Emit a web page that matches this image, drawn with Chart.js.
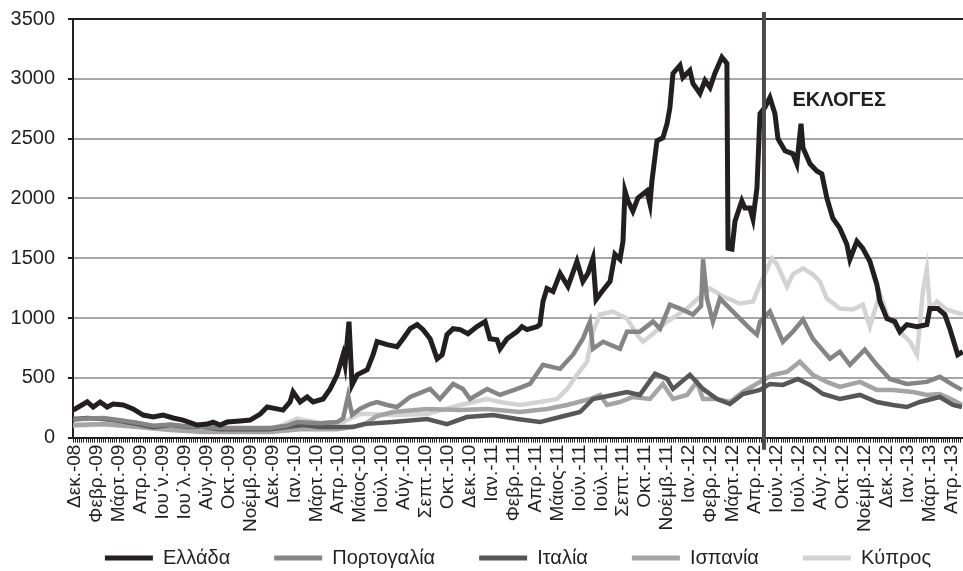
<!DOCTYPE html>
<html>
<head>
<meta charset="utf-8">
<script src="https://cdn.jsdelivr.net/npm/chart.js@4.4.1/dist/chart.umd.min.js"></script>
<style>
  html, body { margin: 0; padding: 0; background: #fff; }
  canvas { display: block; }
</style>
</head>
<body>
<canvas id="cdsChart" width="963" height="571"></canvas>
<script>
// x labels, one per tick position (index units)
const months = ['Δεκ.-08', 'Φεβρ.-09', 'Μάρτ.-09', 'Απρ.-09', 'Ιου΄ν.-09', 'Ιου΄λ.-09', 'Αύγ.-09', 'Οκτ.-09',
    'Νοέμβ.-09', 'Δεκ.-09', 'Ιαν.-10', 'Μάρτ.-10', 'Απρ.-10', 'Μάιος-10', 'Ιούλ.-10', 'Αύγ.-10', 'Σεπτ.-10',
    'Οκτ.-10', 'Δεκ.-10', 'Ιαν.-11', 'Φεβρ.-11', 'Απρ.-11', 'Μάιος-11', 'Ιούν.-11', 'Ιούλ.-11', 'Σεπτ.-11',
    'Οκτ.-11', 'Νοέμβ.-11', 'Ιαν.-12', 'Φεβρ.-12', 'Μάρτ.-12', 'Απρ.-12', 'Ιούν.-12', 'Ιούλ.-12', 'Αύγ.-12',
    'Οκτ.-12', 'Νοέμβ.-12', 'Δεκ.-12', 'Ιαν.-13', 'Μάρτ.-13', 'Απρ.-13'];
const yTicks = [0, 500, 1000, 1500, 2000, 2500, 3000, 3500];

// Ελλάδα
const greeceX = [-0.09, 0.55, 0.82, 1.14, 1.46, 1.73, 2.19, 2.64, 3.10, 3.56,
    4.01, 4.47, 4.92, 5.56, 6.02, 6.29, 6.61, 6.93, 7.52, 7.98,
    8.44, 8.76, 9.21, 9.48, 9.80, 9.94, 10.26, 10.58, 10.85, 11.31,
    11.63, 11.95, 12.22, 12.31, 12.49, 12.63, 12.86, 13.32, 13.59, 13.77,
    14.23, 14.68, 14.96, 15.28, 15.60, 15.87, 16.19, 16.51, 16.74, 16.96,
    17.24, 17.56, 17.92, 18.33, 18.70, 18.92, 19.24, 19.38, 19.70, 20.16,
    20.38, 20.61, 21.07, 21.20, 21.34, 21.52, 21.80, 22.12, 22.48, 22.89,
    23.16, 23.39, 23.62, 23.76, 24.03, 24.40, 24.62, 24.85, 24.99, 25.08,
    25.22, 25.44, 25.67, 26.08, 26.22, 26.31, 26.54, 26.81, 27.00, 27.13,
    27.27, 27.59, 27.72, 28.04, 28.18, 28.50, 28.73, 28.96, 29.18, 29.50,
    29.73, 29.78, 29.96, 30.10, 30.41, 30.55, 30.78, 30.92, 31.10, 31.24,
    31.46, 31.69, 31.92, 32.06, 32.38, 32.74, 32.92, 33.11, 33.20, 33.52,
    33.83, 34.06, 34.29, 34.56, 34.88, 35.20, 35.34, 35.66, 35.93, 36.25,
    36.57, 36.71, 37.03, 37.39, 37.62, 37.94, 38.40, 38.85, 38.99, 39.35,
    39.67, 39.90, 40.26, 40.49];
const greeceY = [230, 300, 256, 298, 256, 281, 273, 240, 189, 172,
    189, 164, 147, 105, 113, 130, 105, 130, 139, 147,
    197, 256, 240, 230, 298, 382, 298, 340, 298, 323,
    407, 525, 693, 609, 970, 441, 525, 567, 693, 802,
    777, 760, 827, 911, 945, 903, 827, 659, 693, 861,
    911, 903, 869, 928, 970, 827, 819, 743, 827, 886,
    928, 903, 928, 945, 1138, 1247, 1222, 1373, 1264, 1474,
    1306, 1373, 1499, 1155, 1222, 1306, 1533, 1491, 1642, 2062,
    1978, 1894, 2003, 2062, 1953, 2146, 2482, 2507, 2625, 2759,
    3045, 3112, 3011, 3070, 2961, 2877, 2986, 2927, 3045, 3180,
    3129, 1583, 1575, 1810, 1978, 1919, 1919, 1827, 2087, 2709,
    2759, 2843, 2709, 2499, 2398, 2373, 2289, 2625, 2423, 2289,
    2230, 2205, 2003, 1835, 1751, 1617, 1491, 1642, 1583, 1474,
    1281, 1138, 995, 970, 886, 945, 928, 945, 1079, 1079,
    1029, 911, 693, 718];

// Πορτογαλία
const portugalX = [-0.09, 0.55, 1.28, 2.05, 2.83, 3.56, 4.33, 5.11, 5.84, 6.61,
    7.39, 8.12, 8.89, 9.67, 10.12, 10.72, 11.17, 11.95, 12.22, 12.45,
    12.63, 13.00, 13.45, 13.77, 14.23, 14.68, 15.28, 16.19, 16.64, 17.24,
    17.69, 18.01, 18.79, 19.38, 20.16, 20.75, 21.34, 22.12, 22.71, 23.16,
    23.48, 23.62, 24.08, 24.85, 25.17, 25.76, 26.36, 26.68, 27.13, 27.59,
    28.18, 28.55, 28.64, 28.82, 29.09, 29.41, 29.87, 30.32, 30.78, 31.10,
    31.24, 31.69, 32.28, 32.74, 33.20, 33.65, 34.43, 34.88, 35.34, 36.02,
    36.57, 37.16, 37.94, 38.85, 39.44, 40.04, 40.45];
const portugalY = [150, 160, 164, 145, 125, 100, 110, 95, 90, 80,
    80, 80, 80, 100, 130, 125, 120, 130, 160, 350,
    190, 242, 281, 298, 273, 256, 340, 407, 323, 449,
    407, 323, 407, 357, 407, 449, 609, 575, 693, 827,
    970, 743, 802, 743, 886, 886, 970, 911, 1112, 1079,
    1029, 1100, 1491, 1163, 970, 1163, 1079, 995, 911, 861,
    970, 1054, 802, 886, 987, 827, 659, 718, 609, 735,
    609, 491, 449, 466, 508, 441, 399];

// Ιταλία
const italyX = [-0.09, 0.55, 1.28, 2.05, 2.83, 3.56, 4.33, 5.11, 5.84, 6.61,
    8.12, 8.89, 9.67, 10.40, 11.17, 11.95, 12.68, 13.13, 14.50, 16.05,
    16.96, 17.87, 19.06, 20.16, 21.20, 22.12, 23.03, 23.62, 24.53, 25.17,
    25.76, 26.45, 27.00, 27.27, 28.04, 28.64, 29.28, 29.87, 30.46, 31.24,
    31.69, 32.28, 32.97, 33.52, 34.11, 34.88, 35.80, 36.57, 37.30, 37.94,
    38.53, 39.44, 40.04, 40.45];
const italyY = [155, 164, 155, 139, 113, 88, 105, 88, 88, 71,
    71, 71, 88, 105, 88, 88, 88, 113, 130, 155,
    113, 172, 189, 155, 130, 172, 214, 323, 357, 382,
    357, 533, 491, 407, 525, 407, 323, 281, 365, 399,
    449, 441, 491, 441, 365, 323, 357, 298, 273, 256,
    298, 340, 273, 256];

// Ισπανία
const spainX = [-0.09, 1.28, 2.83, 4.33, 5.84, 7.39, 8.89, 10.40, 11.95, 13.13,
    13.77, 14.50, 16.05, 17.56, 18.79, 20.29, 21.52, 22.44, 23.48, 23.94,
    24.26, 24.85, 25.44, 26.22, 26.81, 27.27, 27.91, 28.36, 28.64, 29.28,
    29.87, 30.46, 31.24, 31.83, 32.47, 33.06, 33.65, 34.29, 34.88, 35.80,
    36.57, 37.30, 38.21, 38.85, 39.44, 40.04, 40.45];
const spainY = [105, 113, 88, 63, 46, 46, 46, 71, 71, 105,
    180, 214, 240, 230, 240, 214, 240, 273, 323, 357,
    273, 298, 340, 323, 449, 323, 357, 466, 323, 323,
    298, 382, 466, 525, 550, 634, 525, 466, 424, 466,
    399, 399, 382, 357, 365, 315, 273];

// Κύπρος
const cyprusX = [-0.09, 1.28, 2.83, 4.33, 5.84, 7.39, 8.89, 10.12, 11.17, 12.22,
    13.00, 14.50, 16.05, 17.56, 18.79, 19.38, 20.29, 21.20, 21.98, 22.44,
    22.89, 23.35, 23.62, 23.94, 24.53, 25.17, 25.63, 25.90, 26.36, 27.00,
    27.91, 28.36, 28.96, 29.55, 30.32, 30.92, 31.24, 31.78, 32.01, 32.47,
    32.74, 33.20, 33.65, 33.97, 34.29, 34.88, 35.48, 35.93, 36.25, 36.71,
    37.03, 37.62, 38.08, 38.40, 38.67, 38.85, 38.99, 39.31, 39.76, 40.36,
    40.49];
const cyprusY = [100, 110, 95, 75, 60, 55, 60, 160, 120, 130,
    200, 189, 197, 273, 323, 298, 273, 298, 323, 407,
    525, 634, 886, 1029, 1054, 995, 861, 802, 869, 970,
    1079, 1155, 1247, 1180, 1121, 1138, 1281, 1499, 1449, 1264,
    1365, 1415, 1365, 1306, 1163, 1079, 1071, 1112, 928, 1205,
    1029, 886, 802, 693, 1222, 1407, 1079, 1138, 1071, 1037,
    1030];

// elections marker
const electionX = 31.42;
const electionLabel = 'ΕΚΛΟΓΕΣ';
const electionLabelX = 32.72;
const electionLabelY = 2820;

const FONT = '"Liberation Sans", Arial, sans-serif';
Chart.defaults.font.family = FONT;
Chart.defaults.color = '#231f20';

const pts = (xs, ys) => xs.map((x, i) => ({ x: x, y: ys[i] }));

function series(label, xs, ys, color, width) {
    return {
        label: label,
        data: pts(xs, ys),
        borderColor: color,
        backgroundColor: color,
        borderWidth: width,
        pointRadius: 0,
        tension: 0,
        fill: false,
    };
}

const electionPlugin = {
    id: 'election',
    afterDatasetsDraw(chart) {
        const { ctx, chartArea, scales: { x, y } } = chart;
        const px = x.getPixelForValue(electionX);
        ctx.save();
        ctx.strokeStyle = '#4b4b4b';
        ctx.lineWidth = 4;
        ctx.beginPath();
        ctx.moveTo(px, chartArea.top - 7);
        ctx.lineTo(px, chartArea.bottom + 12);
        ctx.stroke();
        ctx.font = 'bold 20px ' + FONT;
        ctx.fillStyle = '#231f20';
        ctx.textBaseline = 'middle';
        ctx.fillText(electionLabel, x.getPixelForValue(electionLabelX), y.getPixelForValue(electionLabelY));
        ctx.restore();
    }
};

new Chart(document.getElementById('cdsChart'), {
    type: 'line',
    data: {
        datasets: [
            series('Ελλάδα', greeceX, greeceY, '#231f20', 5),
            series('Πορτογαλία', portugalX, portugalY, '#858585', 4.5),
            series('Ιταλία', italyX, italyY, '#575757', 4.5),
            series('Ισπανία', spainX, spainY, '#a4a4a4', 4.5),
            series('Κύπρος', cyprusX, cyprusY, '#d3d3d3', 4.5),
        ]
    },
    options: {
        responsive: false,
        animation: false,
        devicePixelRatio: 1,
        layout: { padding: { top: 19, left: 10, right: 0, bottom: -7 } },
        plugins: {
            tooltip: { enabled: false },
            legend: {
                position: 'bottom',
                fullSize: false,
                labels: {
                    boxWidth: 48, boxHeight: 5, padding: 14,
                    font: { size: 20 }, color: '#231f20',
                    // wider gap between legend entries without extra vertical room
                    generateLabels: chart => {
                        const items = Chart.defaults.plugins.legend.labels.generateLabels(chart);
                        return items.map((l, i) => Object.assign(l, {
                            lineWidth: 0,
                            text: i < items.length - 1 ? l.text + '\u2003\u2002' : l.text
                        }));
                    }
                }
            }
        },
        scales: {
            x: {
                type: 'linear',
                min: -0.1, max: 40.5,
                grid: { drawOnChartArea: false, tickLength: 5, tickColor: '#231f20', tickWidth: 1 },
                border: { color: '#231f20', width: 2 },
                ticks: {
                    stepSize: 0.1, autoSkip: false, minRotation: 90, maxRotation: 90,
                    padding: 2, font: { size: 19 }, color: '#231f20',
                    callback: v => {
                        const i = Math.round(v);
                        return Math.abs(v - i) < 1e-6 && months[i] ? months[i] : '';
                    }
                },
                afterFit: s => { s.paddingRight = 0; s.paddingLeft = 0; }
            },
            y: {
                min: 0, max: 3500,
                afterBuildTicks: s => { s.ticks = yTicks.map(v => ({ value: v })); },
                afterFit: s => { s.width = 63; s.paddingTop = 0; s.paddingBottom = 0; },
                grid: {
                    color: c => c.tick && c.tick.value === 3500 ? '#231f20' : '#a7a7a7',
                    lineWidth: 2, tickLength: 5, tickColor: '#231f20'
                },
                border: { color: '#231f20', width: 2 },
                ticks: { padding: 13, font: { size: 20 }, color: '#231f20', callback: v => String(v) }
            }
        }
    },
    plugins: [electionPlugin]
});
</script>
</body>
</html>
